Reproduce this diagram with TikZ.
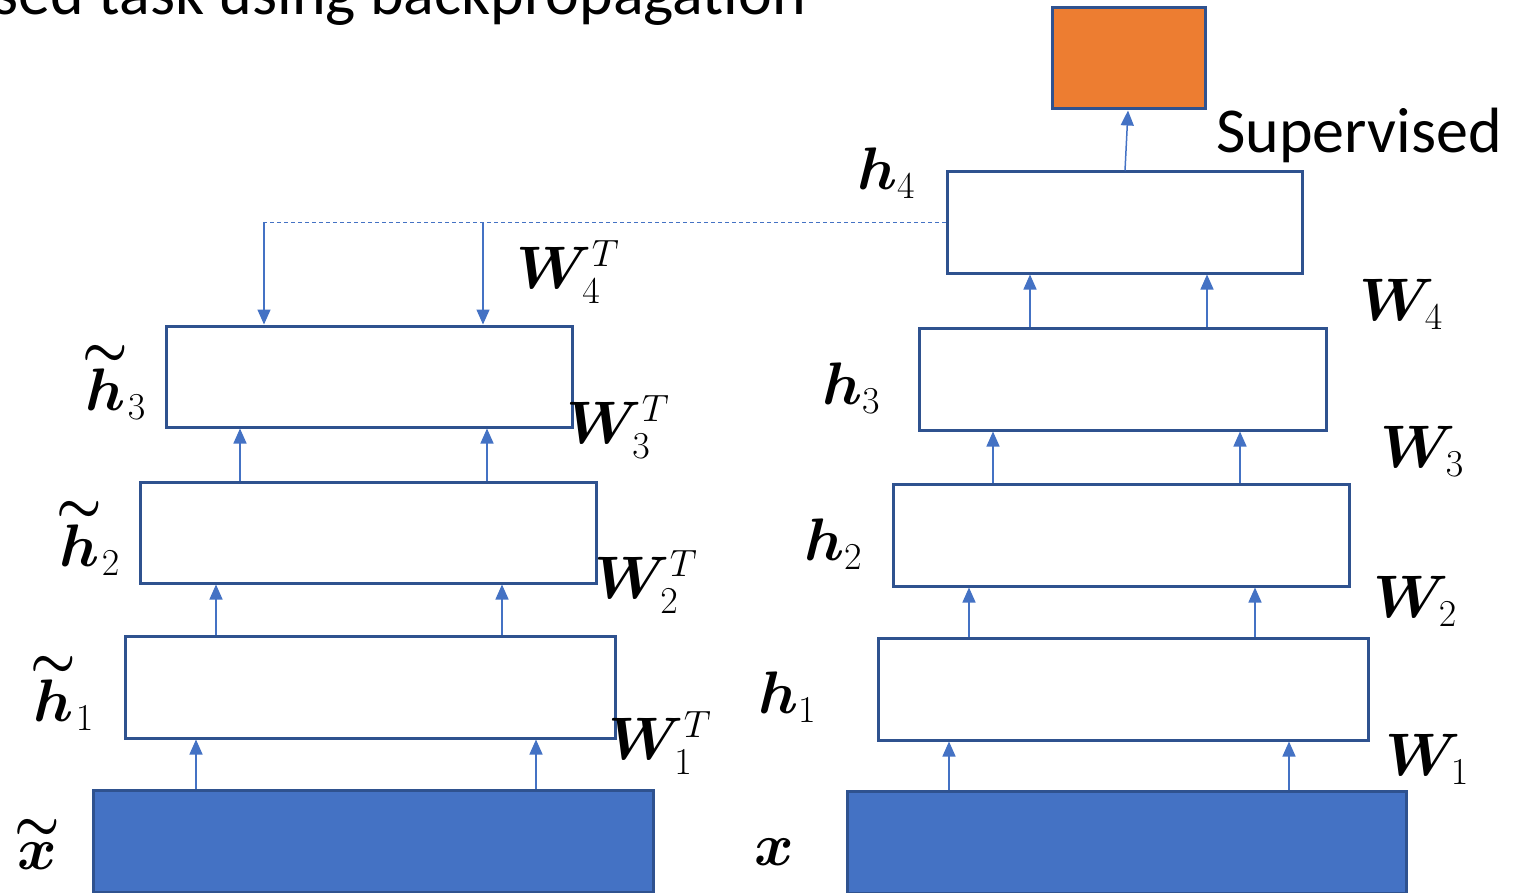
\RequirePackage{fix-cm}
\documentclass[tikz,border=0pt]{standalone}
\usepackage{amsmath,bm,graphicx}
\usepackage{fontspec}
\setmainfont{Carlito}
\DeclareMathSizes{60}{60}{38}{26}
\usetikzlibrary{arrows.meta}
\definecolor{edgeblue}{HTML}{2F528F}
\definecolor{lineblue}{HTML}{4472C4}
\definecolor{fillblue}{HTML}{4472C4}
\definecolor{outorange}{HTML}{ED7D31}
\newcommand{\tl}[1]{\overset{\raisebox{-0.32ex}{\scalebox{0.85}[0.9]{$\bm{\sim}$}}}{\bm{#1}}}
\tikzset{
  layer/.style={draw=edgeblue, line width=3pt, fill=white, inner sep=0pt},
  inbox/.style={draw=edgeblue, line width=3pt, fill=fillblue, inner sep=0pt},
  outbox/.style={draw=edgeblue, line width=3pt, fill=outorange, inner sep=0pt},
  arr/.style={draw=lineblue, line width=1.5pt, -{Triangle[length=15pt,width=13pt]}},
  dashline/.style={draw=lineblue, line width=1.5pt, dash pattern=on 4pt off 3pt},
  mlab/.style={inner sep=0pt, font=\fontsize{60}{72}\selectfont},
  tlab/.style={inner sep=0pt, font=\fontsize{64}{76}\selectfont},
}
\begin{document}
\begin{tikzpicture}[x=1pt,y=-1pt]
\useasboundingbox (0,0) rectangle (1514,893);
\begin{scope}
\clip (0,0) rectangle (1514,893);
% left column
\node[layer, minimum width=406pt, minimum height=101pt] (ht3) at (369,376.5) {};
\node[layer, minimum width=456pt, minimum height=101pt] (ht2) at (368,532.5) {};
\node[layer, minimum width=490pt, minimum height=102pt] (ht1) at (370,687) {};
\node[inbox, minimum width=560pt, minimum height=102pt] (xt) at (373,841) {};
% right column
\node[layer, minimum width=355pt, minimum height=101pt] (h4) at (1124.5,222.5) {};
\node[layer, minimum width=407pt, minimum height=102pt] (h3) at (1122.5,379) {};
\node[layer, minimum width=456pt, minimum height=102pt] (h2) at (1121,535) {};
\node[layer, minimum width=490pt, minimum height=102pt] (h1) at (1123,689) {};
\node[inbox, minimum width=559pt, minimum height=102pt] (x) at (1126.5,842.5) {};
\node[outbox, minimum width=153pt, minimum height=101pt] (out) at (1128.5,58.5) {};

% left arrows
\draw[arr] (196,0 |- xt.north) -- (196,0 |- ht1.south);
\draw[arr] (536,0 |- xt.north) -- (536,0 |- ht1.south);
\draw[arr] (216,0 |- ht1.north) -- (216,0 |- ht2.south);
\draw[arr] (502,0 |- ht1.north) -- (502,0 |- ht2.south);
\draw[arr] (240,0 |- ht2.north) -- (240,0 |- ht3.south);
\draw[arr] (487,0 |- ht2.north) -- (487,0 |- ht3.south);
% right arrows
\draw[arr] (949,0 |- x.north) -- (949,0 |- h1.south);
\draw[arr] (1289,0 |- x.north) -- (1289,0 |- h1.south);
\draw[arr] (969,0 |- h1.north) -- (969,0 |- h2.south);
\draw[arr] (1255,0 |- h1.north) -- (1255,0 |- h2.south);
\draw[arr] (993,0 |- h2.north) -- (993,0 |- h3.south);
\draw[arr] (1240,0 |- h2.north) -- (1240,0 |- h3.south);
\draw[arr] (1030,0 |- h3.north) -- (1030,0 |- h4.south);
\draw[arr] (1207,0 |- h3.north) -- (1207,0 |- h4.south);
\draw[arr] (1125,0 |- h4.north) -- (1128,0 |- out.south);
% tied-weights feedback
\coordinate (d1) at (264,222.5);
\coordinate (d2) at (483,222.5);
\draw[dashline] (h4.west) -- (d1);
\draw[arr] (d1) -- (d1 |- ht3.north);
\draw[arr] (d2) -- (d2 |- ht3.north);

% labels left
\node[mlab] (lht3) at (114,381) {$\tl{h}_3$};
\node[mlab] (lht2) at (88,537) {$\tl{h}_2$};
\node[mlab] (lht1) at (62,692) {$\tl{h}_1$};
\node[mlab] (lxt) at (37,843) {$\tl{x}$};
\node[mlab] (lw4t) at (568,272) {$\bm{W}_4^{T}$};
\node[mlab] (lw3t) at (618,427) {$\bm{W}_3^{T}$};
\node[mlab] (lw2t) at (646,582) {$\bm{W}_2^{T}$};
\node[mlab] (lw1t) at (660,743) {$\bm{W}_1^{T}$};
% labels right
\node[mlab] (lh4) at (886,173) {$\bm{h}_4$};
\node[mlab] (lh3) at (851,388) {$\bm{h}_3$};
\node[mlab] (lh2) at (833,544) {$\bm{h}_2$};
\node[mlab] (lh1) at (787,697) {$\bm{h}_1$};
\node[mlab] (lx) at (774,852) {$\bm{x}$};
\node[mlab] (lw4) at (1401,304) {$\bm{W}_4$};
\node[mlab] (lw3) at (1422,451) {$\bm{W}_3$};
\node[mlab] (lw2) at (1415,601) {$\bm{W}_2$};
\node[mlab] (lw1) at (1427,759) {$\bm{W}_1$};
% texts
\node[tlab, anchor=base west] (sup) at (1216,153) {Supervised};
\node[tlab, anchor=base east] (title) at (806,15) {sed task using backpropagation};
\end{scope}
\end{tikzpicture}
\end{document}
